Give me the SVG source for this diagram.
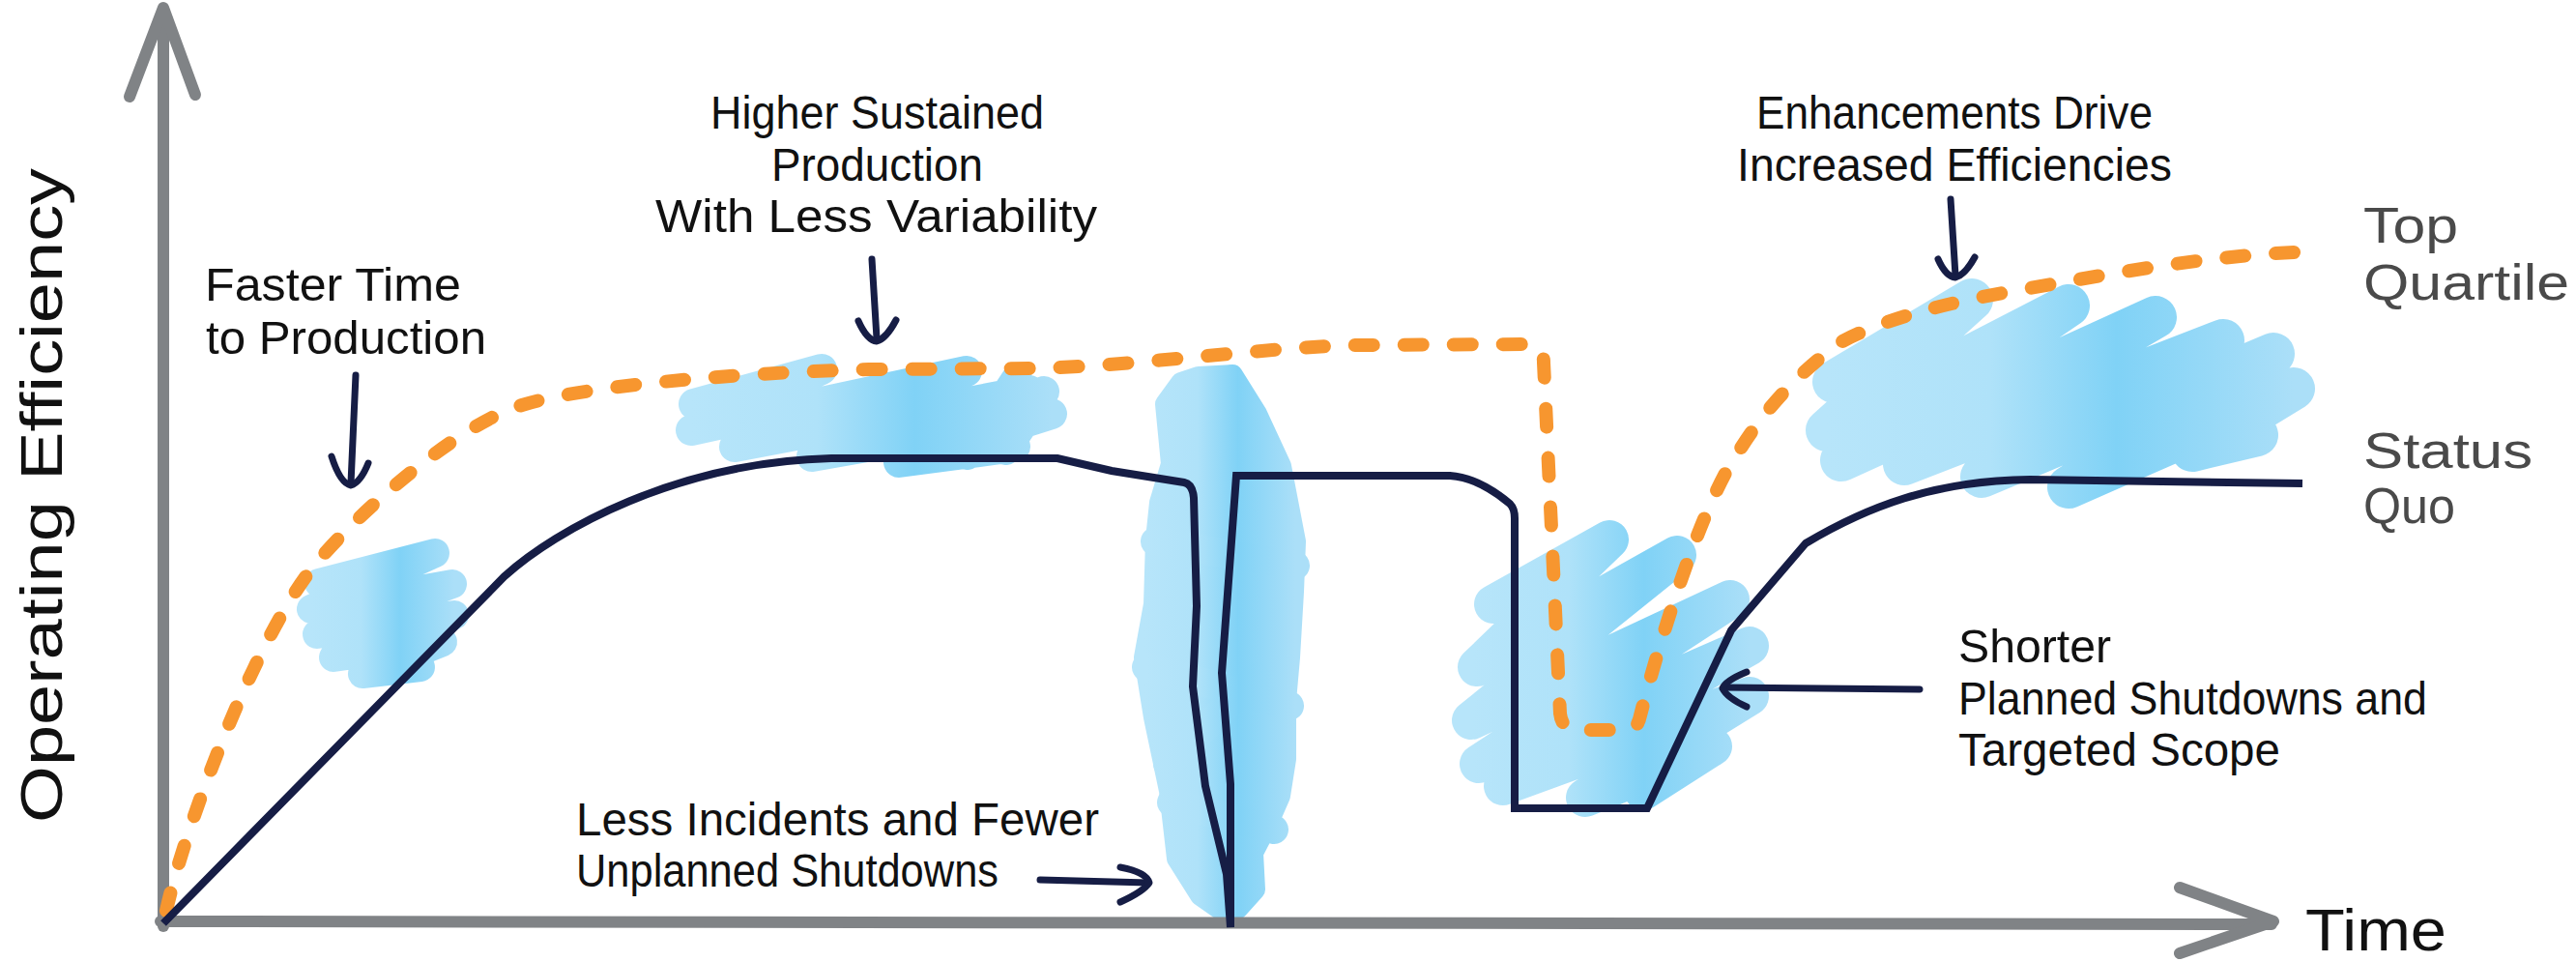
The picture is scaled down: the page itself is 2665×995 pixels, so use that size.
<svg xmlns="http://www.w3.org/2000/svg" width="2665" height="995" viewBox="0 0 2665 995">
  <style>
    .axis { fill: none; stroke: #808386; stroke-width: 12; stroke-linecap: round; stroke-linejoin: round; }
    .sq { fill: none; stroke: #161d45; stroke-width: 8; stroke-linejoin: miter; stroke-linecap: butt; }
    .tq { fill: none; stroke: #f7962f; stroke-width: 14; stroke-linecap: round; stroke-dasharray: 19 32; }
    .arr { fill: none; stroke: #161d45; stroke-width: 7; stroke-linecap: round; stroke-linejoin: round; }
    .blob { fill: none; stroke: url(#blue); stroke-linecap: round; stroke-linejoin: round; }
    .solid { fill: url(#blue); stroke: url(#blue); stroke-width: 22; stroke-linejoin: round; }
    .lbl { font-family: "Liberation Sans", Arial, sans-serif; font-size: 48px; fill: #111111; }
    .big { font-family: "Liberation Sans", Arial, sans-serif; font-size: 52px; fill: #4a4a4a; }
    .ax { font-family: "Liberation Sans", Arial, sans-serif; font-size: 62px; fill: #111111; }
  </style>
  <defs>
    <linearGradient id="blue" x1="0" y1="0" x2="1" y2="0">
      <stop offset="0" stop-color="#b7e5fa"/>
      <stop offset="0.35" stop-color="#afe2f9"/>
      <stop offset="0.62" stop-color="#80d2f6"/>
      <stop offset="1" stop-color="#abdff8"/>
    </linearGradient>
  </defs>

  <rect width="2665" height="995" fill="#ffffff"/>

  <!-- highlight scribbles -->
  <g id="scribbles">
    <path id="scribble-faster" class="blob" stroke-width="30" d="M330,603 L450,572 L322,630 L468,604 L328,656 L470,636 L345,680 L458,664 L375,697 L435,690"/>
    <path id="scribble-sustained" class="blob" stroke-width="32" d="M718,418 L850,382 L715,445 L1000,384 L760,462 L1065,404 L840,472 L1088,428 L930,478 L1050,462 M1000,470 L1052,392 M1040,465 L1080,405"/>
    <g id="scribble-incidents">
      <path class="solid" d="M1240,390 L1275,388 L1300,428 L1325,482 L1340,560 L1338,612 L1334,680 L1330,725 L1330,785 L1324,823 L1310,855 L1296,882 L1298,920 L1280,940 L1262,940 L1242,926 L1218,888 L1210,818 L1194,742 L1184,680 L1194,625 L1196,558 L1200,520 L1212,480 L1206,418 L1222,396 Z"/>
      <path class="blob" stroke-width="30" d="M1195,560 L1340,585 M1186,690 L1334,730 M1212,830 L1318,858 M1208,790 L1300,700"/>
    </g>
    <path id="scribble-planned" class="blob" stroke-width="40" d="M1545,625 L1665,558 L1528,690 L1735,574 L1522,745 L1790,620 L1530,790 L1810,668 L1555,813 L1810,720 L1640,825 L1772,772 L1700,818"/>
    <path id="scribble-enh" class="blob" stroke-width="44" d="M1897,395 L2040,310 L1890,445 L2140,316 L1905,476 L2230,328 L1970,480 L2300,352 L2050,493 L2352,366 L2140,504 L2373,402 L2268,466 L2335,450"/>
  </g>

  <!-- axes -->
  <g id="axes">
    <path class="axis" d="M169,958 L169,10"/>
    <path class="axis" d="M134,100 L169,8 L202,98"/>
    <path class="axis" d="M166,953 L2350,956"/>
    <path class="axis" d="M2255,918 L2352,953 L2255,986"/>
  </g>

  <!-- connectors: curves and pointer arrows -->
  <g id="connectors">
    <path id="top-quartile-curve" class="tq" d="M172,942 C190,860 260,670 321,590 C360,540 470,440 540,419 C600,400 750,386 900,382 L1072,381 C1180,378 1300,360 1400,357 L1580,356 Q1597,356 1597,375 L1614,738 Q1616,755 1632,755 L1684,755 Q1694,755 1697,740 C1715,670 1760,520 1800,465 C1825,425 1860,385 1906,353 C1960,325 2030,310 2100,298 C2200,280 2300,262 2402,260"/>
    <path id="status-quo-curve" class="sq" d="M169,955 L522,596 C575,548 700,478 860,474 L1094,474 L1150,487 L1225,499 Q1234,501 1235,515 L1238,627 L1234,710 L1247,813 L1269,904 L1273,959 L1273,811 L1264,696 L1279,492 L1500,492 Q1530,494 1562,521 Q1567,526 1567,536 L1567,836 L1704,836 L1791,652 L1868,562 C1930,525 2000,497 2100,496 L2382,500"/>
    <g id="arrow-faster">
      <path class="arr" d="M368,388 L363,500"/>
      <path class="arr" d="M343,472 Q352,500 363,502 Q373,499 381,479"/>
    </g>
    <g id="arrow-sustained">
      <path class="arr" d="M902,268 L907,350"/>
      <path class="arr" d="M888,332 Q897,352 907,353 Q917,350 927,331"/>
    </g>
    <g id="arrow-enh">
      <path class="arr" d="M2018,206 L2023,285"/>
      <path class="arr" d="M2005,268 Q2013,286 2023,287 Q2033,284 2043,266"/>
    </g>
    <g id="arrow-planned">
      <path class="arr" d="M1986,713 L1783,711"/>
      <path class="arr" d="M1807,695 Q1785,704 1782,712 Q1787,722 1807,731"/>
    </g>
    <g id="arrow-incidents">
      <path class="arr" d="M1076,910 L1188,913"/>
      <path class="arr" d="M1159,897 Q1186,902 1189,913 Q1183,922 1159,933"/>
    </g>
  </g>

  <!-- labels -->
  <g id="label-y-axis">
    <text class="ax" font-size="66" transform="translate(64,851) rotate(-90)" textLength="677" lengthAdjust="spacingAndGlyphs">Operating Efficiency</text>
  </g>
  <g id="label-x-axis">
    <text class="ax" x="2385" y="983" textLength="146" lengthAdjust="spacingAndGlyphs">Time</text>
  </g>
  <g id="label-faster">
    <text class="lbl" x="212" y="311" textLength="265" lengthAdjust="spacingAndGlyphs">Faster Time</text>
    <text class="lbl" x="213" y="366" textLength="290" lengthAdjust="spacingAndGlyphs">to Production</text>
  </g>
  <g id="label-sustained">
    <text class="lbl" x="735" y="133" textLength="345" lengthAdjust="spacingAndGlyphs">Higher Sustained</text>
    <text class="lbl" x="798" y="187" textLength="219" lengthAdjust="spacingAndGlyphs">Production</text>
    <text class="lbl" x="678" y="240" textLength="457" lengthAdjust="spacingAndGlyphs">With Less Variability</text>
  </g>
  <g id="label-enh">
    <text class="lbl" x="1817" y="133" textLength="410" lengthAdjust="spacingAndGlyphs">Enhancements Drive</text>
    <text class="lbl" x="1797" y="187" textLength="450" lengthAdjust="spacingAndGlyphs">Increased Efficiencies</text>
  </g>
  <g id="label-planned">
    <text class="lbl" x="2026" y="685" textLength="158" lengthAdjust="spacingAndGlyphs">Shorter</text>
    <text class="lbl" x="2026" y="739" textLength="485" lengthAdjust="spacingAndGlyphs">Planned Shutdowns and</text>
    <text class="lbl" x="2026" y="792" textLength="333" lengthAdjust="spacingAndGlyphs">Targeted Scope</text>
  </g>
  <g id="label-incidents">
    <text class="lbl" x="596" y="864" textLength="541" lengthAdjust="spacingAndGlyphs">Less Incidents and Fewer</text>
    <text class="lbl" x="596" y="917" textLength="437" lengthAdjust="spacingAndGlyphs">Unplanned Shutdowns</text>
  </g>
  <g id="label-top-quartile">
    <text class="big" x="2445" y="251" textLength="98" lengthAdjust="spacingAndGlyphs">Top</text>
    <text class="big" x="2445" y="310" textLength="213" lengthAdjust="spacingAndGlyphs">Quartile</text>
  </g>
  <g id="label-status-quo">
    <text class="big" x="2445" y="484" textLength="175" lengthAdjust="spacingAndGlyphs">Status</text>
    <text class="big" x="2445" y="541" textLength="95" lengthAdjust="spacingAndGlyphs">Quo</text>
  </g>
</svg>
